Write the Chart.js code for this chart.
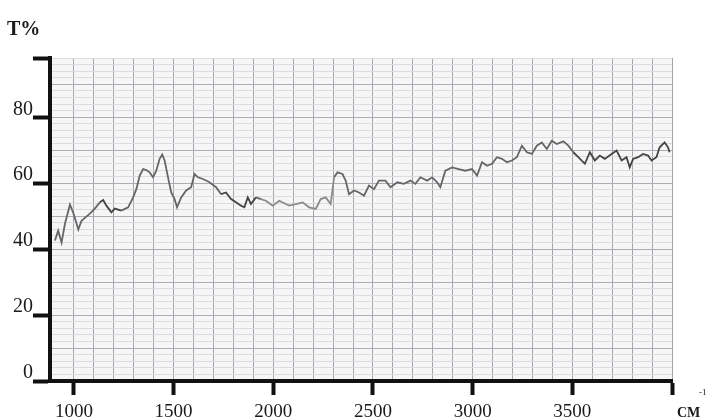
<!DOCTYPE html>
<html>
<head>
<meta charset="utf-8">
<script src="https://cdn.jsdelivr.net/npm/chart.js@4.4.1/dist/chart.umd.min.js"></script>
<style>
  html, body { margin: 0; padding: 0; background: #fff; }
  #wrap { position: relative; width: 707px; height: 419px; }
</style>
</head>
<body>
<div id="wrap"><canvas id="irChart" width="707" height="419"></canvas></div>
<script>
// wavenumber (cm-1) and transmittance (%)
const wavenumbers = [
  905, 921, 938, 955, 980, 997, 1022, 1038, 1055, 1080, 1105, 1130, 1147, 1163, 1188, 1205,
  1238, 1272, 1297, 1313, 1330, 1347, 1363, 1380, 1397, 1413, 1430, 1443, 1455, 1472, 1488,
  1505, 1517, 1538, 1563, 1588, 1605, 1622, 1647, 1680, 1713, 1738, 1763, 1788, 1813, 1838,
  1855, 1872, 1888, 1913, 1938, 1963, 1997, 2030, 2063, 2080, 2113, 2147, 2180, 2213, 2238,
  2263, 2288, 2305, 2322, 2347, 2363, 2380, 2405, 2430, 2455, 2480, 2505, 2530, 2563, 2588,
  2622, 2655, 2688, 2713, 2738, 2772, 2797, 2822, 2838, 2863, 2897, 2930, 2963, 2997, 3022,
  3047, 3072, 3097, 3122, 3147, 3172, 3197, 3222, 3247, 3272, 3297, 3322, 3347, 3372, 3397,
  3422, 3455, 3480, 3505, 3530, 3563, 3588, 3613, 3638, 3663, 3697, 3722, 3747, 3772, 3788,
  3805, 3830, 3855, 3880, 3897, 3922, 3938, 3963, 3980, 3988
];
const transmittance = [
  42.6, 45.6, 42.0, 47.7, 53.5, 51.0, 46.0, 48.6, 49.5, 50.8, 52.3, 54.2, 54.9, 53.2, 51.2, 52.3,
  51.7, 52.7, 55.7, 58.2, 62.3, 64.3, 64.0, 63.3, 61.8, 63.8, 67.4, 68.7, 66.9, 61.8, 57.2,
  55.2, 52.7, 55.7, 57.8, 58.8, 62.8, 61.8, 61.3, 60.3, 58.8, 56.7, 57.2, 55.2, 54.2, 53.2,
  52.7, 55.7, 53.7, 55.7, 55.2, 54.7, 53.2, 54.7, 53.7, 53.2, 53.7, 54.2, 52.7, 52.2, 55.2,
  55.7, 53.7, 61.8, 63.3, 62.8, 60.8, 56.7, 57.8, 57.2, 56.2, 59.3, 58.2, 60.8, 60.8, 58.8,
  60.3, 59.8, 60.8, 59.8, 61.8, 60.8, 61.8, 60.3, 58.8, 63.8, 64.8, 64.3, 63.8, 64.3, 62.3,
  66.4, 65.3, 65.9, 67.9, 67.4, 66.4, 66.9, 67.9, 71.4, 69.4, 68.9, 71.4, 72.4, 70.4, 72.9,
  71.9, 72.7, 71.4, 69.4, 67.9, 65.9, 69.4, 66.9, 68.4, 67.4, 68.9, 69.9, 66.9, 67.9, 64.8,
  67.4, 67.9, 68.9, 68.4, 66.9, 67.9, 70.9, 72.4, 70.9, 69.4
];

const yLabelValues = [0, 20, 40, 60, 80];
const xLabelValues = [1000, 1500, 2000, 2500, 3000, 3500];
const xTickMarks = [1000, 1500, 2000, 2500, 3000, 3500, 4000];
const yTitle = 'T%';
const xUnit = 'CM';
const xUnitExp = '-1';

const Y_MAX = 98;
const SERIF = '"Liberation Serif", "DejaVu Serif", serif';

// the printed trace is darker in some stretches and paler in others
function traceColor(x) {
  if ((x >= 1120 && x <= 1210) || (x >= 1730 && x <= 1900) || x >= 3500) return '#444';
  if (x >= 1930 && x <= 2300) return '#8a8a8a';
  return '#666';
}

const paperBg = {
  id: 'paperBg',
  beforeDraw(chart) {
    const { ctx, chartArea: a } = chart;
    ctx.save();
    ctx.fillStyle = '#f6f6f7';
    ctx.fillRect(a.left, a.top, a.right - a.left, a.bottom - a.top);
    ctx.restore();
  }
};

const axisTexts = {
  id: 'axisTexts',
  afterDraw(chart) {
    const { ctx, chartArea: a } = chart;
    ctx.save();
    ctx.fillStyle = '#1a1a1a';
    ctx.textBaseline = 'alphabetic';
    ctx.font = 'bold 20px ' + SERIF;
    ctx.fillText(yTitle, 7, 35);
    ctx.font = 'bold 14px ' + SERIF;
    ctx.fillText(xUnit, a.right + 5, 417);
    ctx.font = '9px ' + SERIF;
    ctx.fillText(xUnitExp, a.right + 27, 395);
    ctx.restore();
  }
};

new Chart(document.getElementById('irChart'), {
  type: 'line',
  data: {
    datasets: [{
      data: wavenumbers.map((w, i) => ({ x: w, y: transmittance[i] })),
      borderColor: '#666',
      borderWidth: 1.8,
      pointRadius: 0,
      tension: 0,
      segment: { borderColor: c => traceColor(c.p0.parsed.x) }
    }]
  },
  options: {
    responsive: false,
    animation: false,
    events: [],
    layout: { padding: { top: 58, right: 35, left: 0, bottom: 0 } },
    plugins: { legend: { display: false }, tooltip: { enabled: false } },
    scales: {
      x: {
        type: 'linear',
        min: 880,
        max: 4000,
        afterFit: s => { s.height = 38; },
        border: { color: '#111', width: 4 },
        grid: {
          color: '#a4a4ac',
          lineWidth: 1,
          tickLength: 14,
          tickColor: c => xTickMarks.includes(c.tick.value) ? '#111' : 'rgba(0,0,0,0)',
          tickWidth: 4
        },
        ticks: {
          stepSize: 100,
          autoSkip: false,
          maxRotation: 0,
          padding: 6,
          color: '#1a1a1a',
          font: { family: SERIF, size: 19 },
          callback: v => xLabelValues.includes(v) ? String(v) : ''
        }
      },
      y: {
        min: 0,
        max: Y_MAX,
        afterFit: s => { s.width = 50; },
        border: { color: '#111', width: 4 },
        grid: {
          color: c => c.tick.value % 10 === 0 ? '#adadb4' : '#dcdce0',
          lineWidth: 1,
          tickLength: 17,
          tickColor: c => (yLabelValues.includes(c.tick.value) || c.tick.value === Y_MAX) ? '#111' : 'rgba(0,0,0,0)',
          tickWidth: 4
        },
        ticks: {
          stepSize: 2,
          autoSkip: false,
          padding: 0,
          labelOffset: -8,
          color: '#1a1a1a',
          font: { family: SERIF, size: 20 },
          callback: v => yLabelValues.includes(v) ? String(v) : ''
        }
      }
    }
  },
  plugins: [paperBg, axisTexts]
});
</script>
</body>
</html>
